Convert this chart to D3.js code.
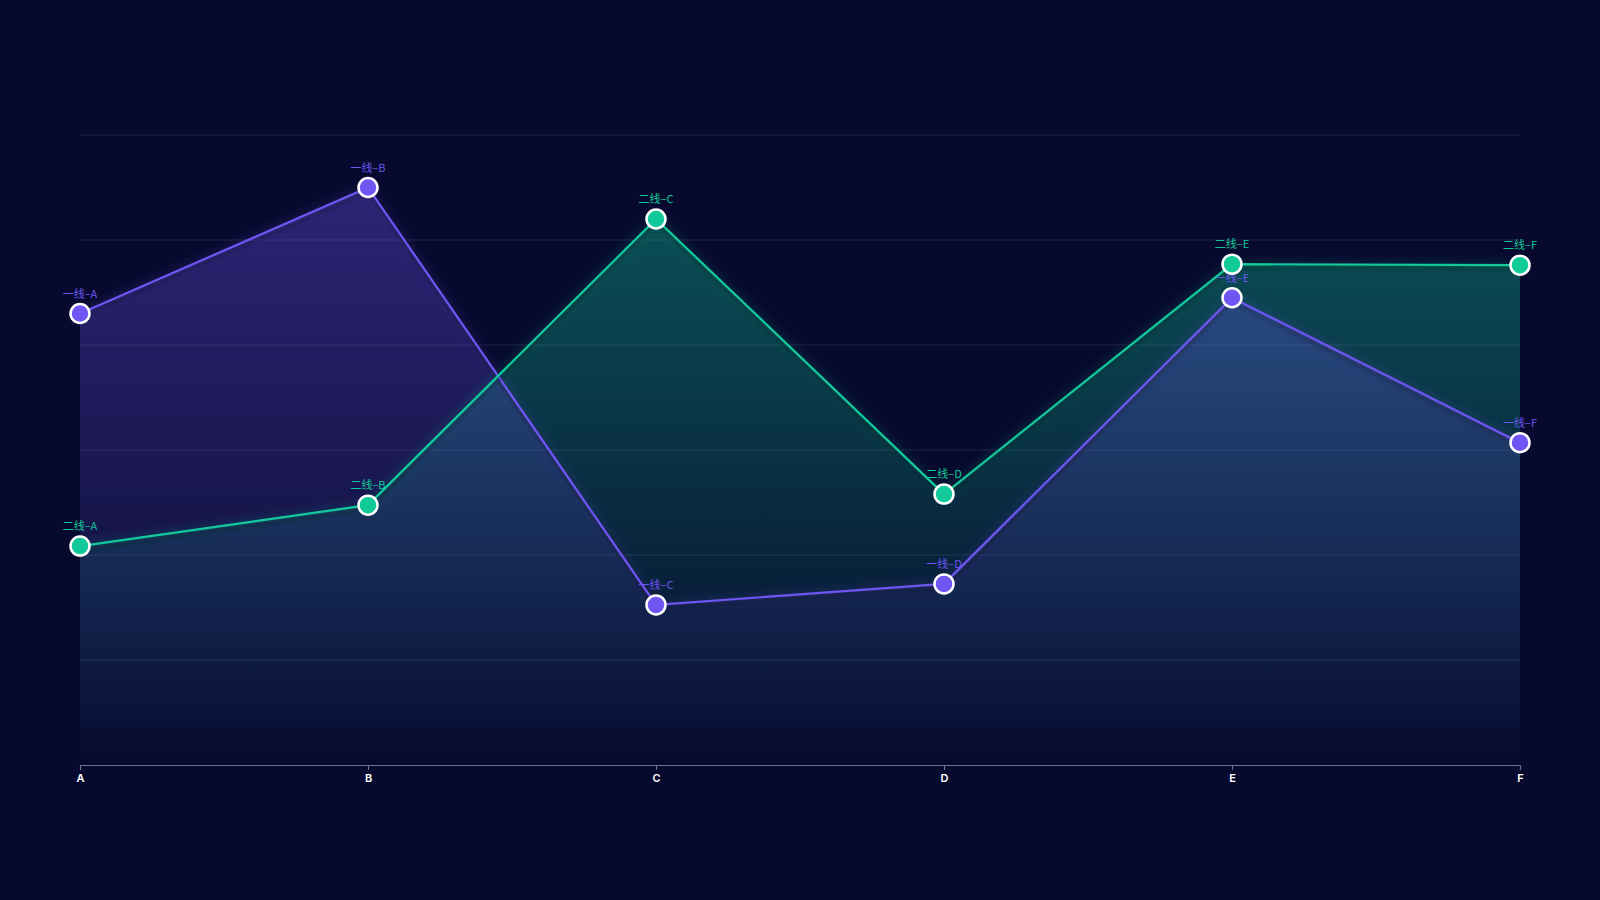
<!DOCTYPE html>
<html>
<head>
<meta charset="utf-8">
<script src="https://cdn.jsdelivr.net/npm/d3@7"></script>
<style>
  html, body { margin: 0; padding: 0; background: #070a2e; }
  svg { display: block; font-family: "Noto Sans CJK SC", "Noto Sans", sans-serif; }
</style>
</head>
<body>
<div id="chart"></div>
<script>
// chart data
var categories = ["A", "B", "C", "D", "E", "F"];
var seriesNames = ["一线", "二线"];
var lineOne = [86, 110, 30.5, 34.5, 89, 61.4];
var lineTwo = [41.7, 49.5, 104, 51.6, 95.4, 95.2];
var yTicks = [0, 20, 40, 60, 80, 100, 120];

var colors = ["#6f55f2", "#12c99a"];

var margin = {top: 135, right: 80, bottom: 135, left: 80},
    width = 1600 - margin.left - margin.right,
    height = 900 - margin.top - margin.bottom;

var svg = d3.select("#chart")
    .append("svg")
    .attr("width", width + margin.left + margin.right)
    .attr("height", height + margin.top + margin.bottom);

var defs = svg.append("defs");

var g = svg.append("g")
    .attr("transform", "translate(" + margin.left + "," + margin.top + ")");

var x = d3.scalePoint()
    .domain(categories)
    .range([0, width]);

var y = d3.scaleLinear()
    .domain([0, 120])
    .range([height, 0]);

var series = [
    {name: seriesNames[0], values: lineOne, color: colors[0], opacity: 0.36},
    {name: seriesNames[1], values: lineTwo, color: colors[1], opacity: 0.36}
];

// gradients + line shadow filters
series.forEach(function (s, i) {
    var grad = defs.append("linearGradient")
        .attr("id", "grad" + i)
        .attr("x1", 0).attr("y1", 0)
        .attr("x2", 0).attr("y2", 1);
    grad.append("stop").attr("offset", "0%")
        .attr("stop-color", s.color).attr("stop-opacity", s.opacity);
    grad.append("stop").attr("offset", "100%")
        .attr("stop-color", s.color).attr("stop-opacity", 0);

    var f = defs.append("filter")
        .attr("id", "shadow" + i)
        .attr("x", "-10%").attr("y", "-20%")
        .attr("width", "120%").attr("height", "140%");
    f.append("feDropShadow")
        .attr("dx", 0).attr("dy", 4)
        .attr("stdDeviation", 2)
        .attr("flood-color", "#000000")
        .attr("flood-opacity", 0.45);
});

var glow = defs.append("filter")
    .attr("id", "glow")
    .attr("x", "-10%").attr("y", "-20%")
    .attr("width", "120%").attr("height", "140%");
glow.append("feGaussianBlur").attr("in", "SourceGraphic").attr("stdDeviation", 5);

// grid lines
g.append("g")
    .selectAll("line")
    .data(yTicks.slice(1))
    .enter()
    .append("line")
    .attr("x1", 0)
    .attr("x2", width)
    .attr("y1", function (d) { return y(d); })
    .attr("y2", function (d) { return y(d); })
    .attr("stroke", "#ffffff")
    .attr("stroke-opacity", 0.1)
    .attr("stroke-width", 1);

var area = d3.area()
    .x(function (d, i) { return x(categories[i]); })
    .y0(height)
    .y1(function (d) { return y(d); });

var line = d3.line()
    .x(function (d, i) { return x(categories[i]); })
    .y(function (d) { return y(d); });

// areas (green first, purple over it)
g.append("path")
    .datum(series[1].values)
    .attr("d", area)
    .attr("fill", "url(#grad1)");
g.append("path")
    .datum(series[0].values)
    .attr("d", area)
    .attr("fill", "url(#grad0)");

// soft glow behind lines
series.forEach(function (s) {
    g.append("path")
        .datum(s.values)
        .attr("d", line)
        .attr("fill", "none")
        .attr("stroke", s.color)
        .attr("stroke-opacity", 0.18)
        .attr("stroke-width", 6)
        .attr("filter", "url(#glow)");
});

// x axis
var xAxis = g.append("g")
    .attr("transform", "translate(0," + height + ")")
    .call(d3.axisBottom(x).tickSize(5).tickPadding(4));
xAxis.select(".domain").attr("stroke", "#6e7190").attr("stroke-width", 1.2);
xAxis.selectAll(".tick line").attr("stroke", "#6e7190");
xAxis.selectAll(".tick text")
    .attr("fill", "#ffffff")
    .style("font-size", "11px")
    .style("font-weight", "600")
    .style("font-family", "Inter, 'Noto Sans', sans-serif");

// lines, points and labels per series
series.forEach(function (s, i) {
    var sg = g.append("g");

    sg.append("path")
        .datum(s.values)
        .attr("d", line)
        .attr("fill", "none")
        .attr("stroke", s.color)
        .attr("stroke-width", 2.2)
        .attr("stroke-linejoin", "round")
        .attr("filter", "url(#shadow" + i + ")");

    sg.selectAll("text")
        .data(s.values)
        .enter()
        .append("text")
        .attr("x", function (d, j) { return x(categories[j]); })
        .attr("y", function (d) { return y(d) - 16; })
        .attr("text-anchor", "middle")
        .attr("fill", s.color)
        .style("font-size", "11px")
        .text(function (d, j) { return s.name + "–" + categories[j]; });

    sg.selectAll("circle")
        .data(s.values)
        .enter()
        .append("circle")
        .attr("cx", function (d, j) { return x(categories[j]); })
        .attr("cy", function (d) { return y(d); })
        .attr("r", 9.5)
        .attr("fill", s.color)
        .attr("stroke", "#ffffff")
        .attr("stroke-width", 2.5);
});
</script>
</body>
</html>
